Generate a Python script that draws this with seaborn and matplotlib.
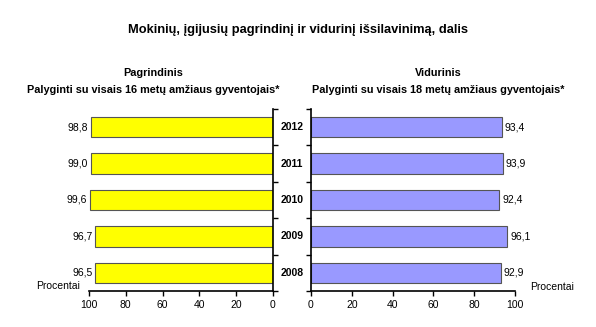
import matplotlib
matplotlib.use("Agg")
import matplotlib.pyplot as plt
import seaborn as sns
import pandas as pd

years = ["2012", "2011", "2010", "2009", "2008"]
pagrindinis = [98.8, 99.0, 99.6, 96.7, 96.5]
vidurinis = [93.4, 93.9, 92.4, 96.1, 92.9]
x_ticks = [0, 20, 40, 60, 80, 100]

sns.set_style("white")
plt.rcParams["font.family"] = ["Liberation Sans", "DejaVu Sans"]
plt.rcParams["text.color"] = "black"
plt.rcParams["xtick.color"] = "black"
plt.rcParams["ytick.color"] = "black"
plt.rcParams["axes.labelcolor"] = "black"

df_l = pd.DataFrame({"year": years, "value": pagrindinis})
df_r = pd.DataFrame({"year": years, "value": vidurinis})

fig = plt.figure(figsize=(5.96, 3.27), dpi=100)
ax_l = fig.add_axes([89 / 596, 1 - 291 / 327, 184 / 596, 182 / 327])
ax_r = fig.add_axes([311 / 596, 1 - 291 / 327, 204 / 596, 182 / 327])

sns.barplot(data=df_l, x="value", y="year", order=years, orient="h",
            color="#FFFF00", saturation=1, width=0.56, edgecolor="#555555",
            linewidth=0.8, ax=ax_l)
sns.barplot(data=df_r, x="value", y="year", order=years, orient="h",
            color="#9999FF", saturation=1, width=0.56, edgecolor="#555555",
            linewidth=0.8, ax=ax_r)

def fmt(v):
    return f"{v:.1f}".replace(".", ",")

for ax, vals, side in ((ax_l, pagrindinis, "left"), (ax_r, vidurinis, "right")):
    ax.set_ylim(4.5, -0.5)
    ax.set_xticks(x_ticks)
    ax.set_xticklabels([str(t) for t in x_ticks], fontsize=7.5)
    ax.set_yticks([i - 0.5 for i in range(len(years) + 1)])
    ax.set_yticklabels([])
    ax.set_xlabel("")
    ax.set_ylabel("")
    ax.tick_params(axis="both", direction="out", length=3.5, width=1.0,
                   color="black", labelcolor="black", pad=3, bottom=True)
    for s in ax.spines.values():
        s.set_color("black")
        s.set_linewidth(1.2)
    ax.spines["top"].set_visible(False)
    if side == "left":
        ax.set_xlim(100, 0)
        ax.spines["left"].set_visible(False)
        ax.yaxis.tick_right()
        for i, v in enumerate(vals):
            ax.text(v + 1.5, i, fmt(v), ha="right", va="center", fontsize=7.5)
    else:
        ax.set_xlim(0, 100)
        ax.spines["right"].set_visible(False)
        ax.yaxis.tick_left()
        for i, v in enumerate(vals):
            ax.text(v + 1.5, i, fmt(v), ha="left", va="center", fontsize=7.5)
    ax.tick_params(axis="y", labelright=False, labelleft=False)

# Year labels between the two panels
for i, y in enumerate(years):
    yd = ax_l.transData.transform((0, i))[1]
    yf = fig.transFigure.inverted().transform((0, yd))[1]
    fig.text(292 / 596, yf, y, ha="center", va="center", fontsize=7.5,
             fontweight="bold")

fig.text(0.5, 1 - 30 / 327, "Mokinių, įgijusių pagrindinį ir vidurinį išsilavinimą, dalis",
         ha="center", va="center", fontsize=9.3, fontweight="bold")
fig.text(153 / 596, 1 - 73 / 327, "Pagrindinis", ha="center", va="center",
         fontsize=7.8, fontweight="bold")
fig.text(153 / 596, 1 - 90 / 327, "Palyginti su visais 16 metų amžiaus gyventojais*",
         ha="center", va="center", fontsize=7.8, fontweight="bold")
fig.text(438 / 596, 1 - 73 / 327, "Vidurinis", ha="center", va="center",
         fontsize=7.8, fontweight="bold")
fig.text(438 / 596, 1 - 90 / 327, "Palyginti su visais 18 metų amžiaus gyventojais*",
         ha="center", va="center", fontsize=7.8, fontweight="bold")
fig.text(58 / 596, 1 - 286 / 327, "Procentai", ha="center", va="center", fontsize=7.5)
fig.text(552 / 596, 1 - 287 / 327, "Procentai", ha="center", va="center", fontsize=7.5)

fig.savefig("out.png", dpi=100)
